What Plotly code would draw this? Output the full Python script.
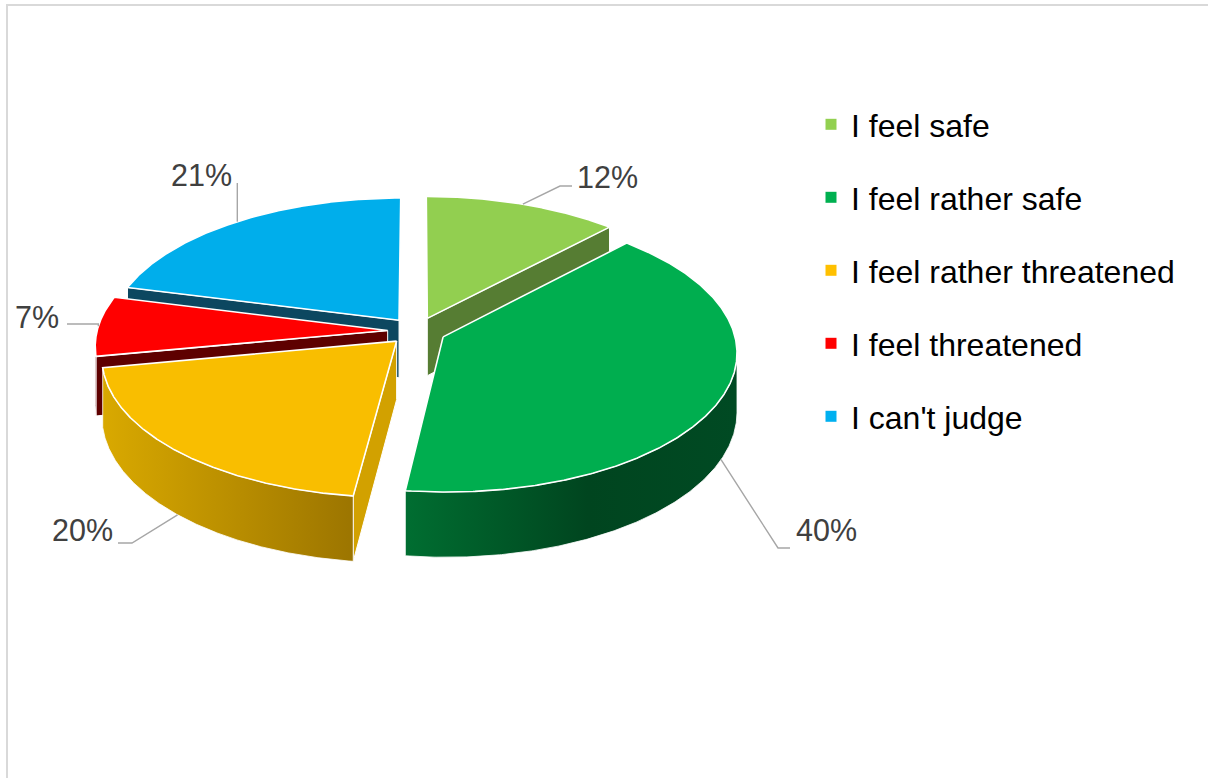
import numpy as np
import plotly.graph_objects as go

# ---- data -------------------------------------------------------------
categories = [
    "I feel safe",
    "I feel rather safe",
    "I feel rather threatened",
    "I feel threatened",
    "I can't judge",
]
shares = [12, 40, 20, 7, 21]

# ---- styling ----------------------------------------------------------
legend_colors = ["#92D050", "#00B050", "#FFC000", "#FF0000", "#00B0F0"]
top_colors = ["#92CF50", "#00AE4F", "#F9BE00", "#FF0000", "#00AEEB"]
face_colors = ["#567D33", "#006B2F", "#D2A100", "#5E0000", "#0C4760"]
wall_scales = [
    [[0, "#6E9A3E"], [1, "#567D33"]],
    [[0, "#006E31"], [0.55, "#00451F"], [1, "#004A23"]],
    [[0, "#D9A900"], [1, "#9C7500"]],
    [[0, "#6A0000"], [1, "#580000"]],
    [[0, "#0E5A7A"], [1, "#0A3F56"]],
]

W, H = 1208, 778
CX, CY = 416.7, 331.0      # pie centre in pixels
A, B = 290.6, 137.4        # horizontal / vertical radius
P = 0.106                  # perspective strength
DEPTH = 58.0               # thickness of the disc
EXPLODE = 0.10             # radial offset of every slice

FONT = "Liberation Sans, Arial, sans-serif"

# text placement of the percentage labels and their leader bends
label_pos = [(607, 177), (826, 530), (82, 530), (37, 317), (201, 175)]
leader_bends = [
    [(560, 186), (572, 186)],
    [(778, 548), (790, 548)],
    [(132, 543), (118, 543)],
    [("x", 324), (67, 324)],
    [(None, 183)],
]


def project(theta, r, ex, ez, h):
    t = np.radians(theta)
    X = r * np.sin(t) + ex
    Z = r * np.cos(t) + ez
    w = 1 + P * Z
    return CX + A * X / w, CY - B * Z / w + DEPTH * h / w


# angular extent of each slice, clockwise from 12 o'clock
total = float(sum(shares))
ends = np.cumsum(shares) / total * 360.0
starts = np.concatenate([[0.0], ends[:-1]])

slices = []
for i, (t0, t1) in enumerate(zip(starts, ends)):
    mid = (t0 + t1) / 2
    ex = EXPLODE * np.sin(np.radians(mid))
    ez = EXPLODE * np.cos(np.radians(mid))
    slices.append(dict(i=i, t0=t0, t1=t1, mid=mid, ex=ex, ez=ez))

fig = go.Figure()


def poly(xs, ys, **kw):
    fig.add_trace(go.Scatter(
        x=list(xs) + [xs[0]], y=list(ys) + [ys[0]], mode="lines",
        fill="toself", hoverinfo="skip", showlegend=False, **kw))


def cut_face(s, ang):
    pts = [project(ang, 0, s["ex"], s["ez"], 0), project(ang, 1, s["ex"], s["ez"], 0),
           project(ang, 1, s["ex"], s["ez"], 1), project(ang, 0, s["ex"], s["ez"], 1)]
    poly([p[0] for p in pts], [p[1] for p in pts],
         fillcolor=face_colors[s["i"]], line=dict(color="white", width=1))


# back-to-front painting
order = sorted(slices, key=lambda s: -np.cos(np.radians(s["mid"])))
for s in order:
    i, t0, t1, ex, ez = s["i"], s["t0"], s["t1"], s["ex"], s["ez"]
    if np.sin(np.radians(t0)) < -1e-6:
        cut_face(s, t0)
    if np.sin(np.radians(t1)) > 1e-6:
        cut_face(s, t1)

    th = np.linspace(t0, t1, 400)
    tr = np.radians(th)
    g = np.cos(tr) + P * (1 + ez * np.cos(tr) + ex * np.sin(tr))
    vis = th[g < 0]
    if len(vis) > 1:
        tx, ty = project(vis, 1, ex, ez, 0)
        bx, by = project(vis[::-1], 1, ex, ez, 1)
        xs = np.concatenate([tx, bx])
        ys = np.concatenate([ty, by])
        poly(xs, ys, fillgradient=dict(type="horizontal", colorscale=wall_scales[i]),
             fillcolor=face_colors[i], line=dict(color="rgba(255,255,255,0.8)", width=1))

    ax, ay = project(th, 1, ex, ez, 0)
    cx0, cy0 = project(t0, 0, ex, ez, 0)
    poly(np.concatenate([[cx0], ax]), np.concatenate([[cy0], ay]),
         fillcolor=top_colors[i], line=dict(color="white", width=1.6))

# leader lines and percentage labels
for s in slices:
    i = s["i"]
    front = np.cos(np.radians(s["mid"])) < -0.2
    axp, ayp = project(s["mid"], 1, s["ex"], s["ez"], 1 if front else 0)
    xs, ys = [float(axp)], [float(ayp)]
    for bx, by in leader_bends[i]:
        xs.append(float(axp) if bx in (None, "x") else bx)
        ys.append(by)
    fig.add_trace(go.Scatter(x=xs, y=ys, mode="lines", hoverinfo="skip", showlegend=False,
                             line=dict(color="#A6A6A6", width=1.4)))
    lx, ly = label_pos[i]
    fig.add_annotation(x=lx, y=ly, text=f"{shares[i]}%", showarrow=False,
                       xanchor="center", yanchor="middle",
                       font=dict(family=FONT, size=30.5, color="#404040"))

# legend entries
for i, name in enumerate(categories):
    fig.add_trace(go.Scatter(x=[None], y=[None], mode="markers", name=name,
                             legendgroup=name,
                             marker=dict(symbol="square", size=11, color=legend_colors[i])))

# chart frame
fig.add_shape(type="rect", x0=7, y0=5, x1=W + 10, y1=H + 10, xref="x", yref="y",
              line=dict(color="#D9D9D9", width=2), layer="below")

fig.update_layout(
    width=W, height=H, autosize=False,
    margin=dict(l=0, r=0, t=0, b=0),
    paper_bgcolor="white", plot_bgcolor="white",
    xaxis=dict(range=[0, W], visible=False, fixedrange=True),
    yaxis=dict(range=[H, 0], visible=False, fixedrange=True),
    showlegend=True,
    legend=dict(x=811 / W, y=1 - 97 / H, xanchor="left", yanchor="top",
                font=dict(family=FONT, size=32, color="#000000"),
                tracegroupgap=28.4, bgcolor="rgba(0,0,0,0)", itemclick=False),
)

fig.write_html("out.html")
